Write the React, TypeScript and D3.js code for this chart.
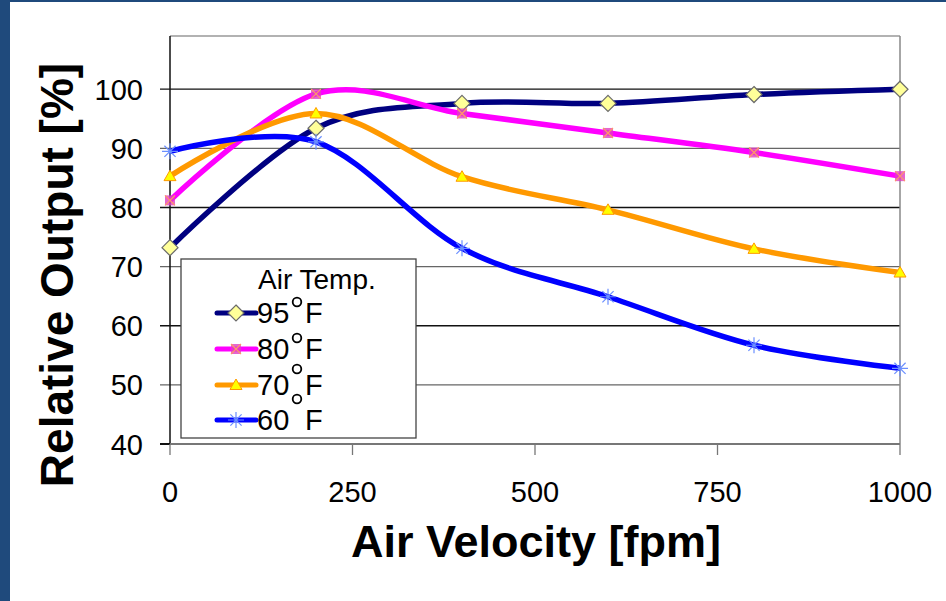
import React from 'react';
import * as d3 from 'd3';

const velocities = [0, 200, 400, 600, 800, 1000];
const temp95 = [73.2, 93.4, 97.6, 97.6, 99.1, 100.0];
const temp80 = [81.2, 99.2, 95.9, 92.6, 89.3, 85.3];
const temp70 = [85.3, 95.9, 85.2, 79.6, 73.0, 69.0];
const temp60 = [89.5, 91.1, 73.1, 64.9, 56.7, 52.8];
const xTicks = [0, 250, 500, 750, 1000];
const yTicks = [40, 50, 60, 70, 80, 90, 100];

type Marker = 'diamond' | 'x' | 'triangle' | 'star';

interface Series {
  label: string;
  values: number[];
  color: string;
  marker: Marker;
}

const series: Series[] = [
  { label: '95', values: temp95, color: '#000080', marker: 'diamond' },
  { label: '80', values: temp80, color: '#ff00ff', marker: 'x' },
  { label: '70', values: temp70, color: '#ff9900', marker: 'triangle' },
  { label: '60', values: temp60, color: '#0000ff', marker: 'star' },
];

const W = 946;
const H = 601;
const plot = { left: 170, right: 900, top: 36, bottom: 444 };
const font = 'Arial, "Liberation Sans", sans-serif';

const MarkerShape: React.FC<{ kind: Marker; x: number; y: number }> = ({ kind, x, y }) => {
  if (kind === 'diamond') {
    const s = 8;
    return (
      <path
        d={`M${x},${y - s}L${x + s},${y}L${x},${y + s}L${x - s},${y}Z`}
        fill="#ffff99"
        stroke="#6b6b6b"
        strokeWidth={1.2}
      />
    );
  }
  if (kind === 'x') {
    const s = 5;
    return (
      <g>
        <rect x={x - s} y={y - s} width={2 * s} height={2 * s} fill="#e040c0" opacity={0.8} />
        <path d={`M${x - s},${y - s}L${x + s},${y + s}M${x - s},${y + s}L${x + s},${y - s}`} stroke="#ff9966" strokeWidth={1.2} />
      </g>
    );
  }
  if (kind === 'triangle') {
    const s = 6;
    return (
      <path d={`M${x},${y - s}L${x + s},${y + s * 0.75}L${x - s},${y + s * 0.75}Z`} fill="#ffff00" stroke="#ff9900" strokeWidth={1} />
    );
  }
  const s = 8;
  return (
    <path
      d={`M${x - s},${y}L${x + s},${y}M${x - s * 0.7},${y - s * 0.7}L${x + s * 0.7},${y + s * 0.7}M${x - s * 0.7},${y + s * 0.7}L${x + s * 0.7},${y - s * 0.7}M${x},${y - s}L${x},${y + s}`}
      stroke="#6b8fff"
      strokeWidth={1.2}
    />
  );
};

export default function App() {
  const xScale = d3.scaleLinear().domain([0, 1000]).range([plot.left, plot.right]);
  const yScale = d3.scaleLinear().domain([40, 109]).range([plot.bottom, plot.top]);

  const line = d3
    .line<number>()
    .x((_, i) => xScale(velocities[i]))
    .y((d) => yScale(d))
    .curve(d3.curveCardinal.tension(0));

  const legend = { x: 181, y: 259, w: 235, h: 179 };
  const rowY = [313, 349, 385, 420];
  // degree marks as drawn in the original (the 60 row's mark slipped into the 70 row)
  const degrees = [
    { x: 297, y: 302 },
    { x: 297, y: 338 },
    { x: 297, y: 369 },
    { x: 297, y: 399 },
  ];

  return (
    <svg
      width={W}
      height={H}
      style={{ position: 'fixed', left: 0, top: 0, background: '#fff' }}
      fontFamily={font}
    >
      <rect x={0} y={0} width={W} height={H} fill="#fff" />
      <rect x={0} y={0} width={10} height={H} fill="#1f4a7c" />
      <rect x={0} y={0} width={W} height={2} fill="#1f4a7c" />

      {/* grid */}
      {yTicks.map((t, i) => (
        <line
          key={`g${t}`}
          x1={plot.left - 10}
          x2={plot.right}
          y1={yScale(t)}
          y2={yScale(t)}
          stroke={i % 2 === 0 ? '#111' : '#666'}
          strokeWidth={i === 0 ? 2 : 1.3}
        />
      ))}
      <line x1={plot.left} x2={plot.right} y1={plot.top} y2={plot.top} stroke="#999" strokeWidth={1.5} />
      <line x1={plot.right} x2={plot.right} y1={plot.top} y2={plot.bottom} stroke="#888" strokeWidth={1.5} />
      <line x1={plot.left} x2={plot.left} y1={plot.top} y2={plot.bottom} stroke="#111" strokeWidth={1.5} />
      <line x1={plot.left} x2={plot.right} y1={plot.bottom} y2={plot.bottom} stroke="#777" strokeWidth={2} />
      {xTicks.map((t) => (
        <line key={`xt${t}`} x1={xScale(t)} x2={xScale(t)} y1={plot.bottom} y2={plot.bottom + 11} stroke="#777" strokeWidth={1.3} />
      ))}

      {/* tick labels */}
      {yTicks.map((t) => (
        <text key={`yl${t}`} x={143} y={yScale(t) + 10.5} fontSize={29} textAnchor="end" fill="#000">
          {t}
        </text>
      ))}
      {xTicks.map((t) => (
        <text key={`xl${t}`} x={xScale(t)} y={502} fontSize={29} textAnchor="middle" fill="#000">
          {t}
        </text>
      ))}

      {/* axis titles */}
      <text x={536} y={557} fontSize={45} fontWeight="bold" textAnchor="middle" fill="#000">
        Air Velocity [fpm]
      </text>
      <text
        transform="translate(73,275) rotate(-90)"
        fontSize={46}
        fontWeight="bold"
        textAnchor="middle"
        fill="#000"
      >
        Relative Output [%]
      </text>

      {/* series */}
      {series.map((s) => (
        <path key={`l${s.label}`} d={line(s.values) ?? ''} fill="none" stroke={s.color} strokeWidth={5.5} />
      ))}
      {series.map((s) =>
        s.values.map((v, i) => (
          <MarkerShape key={`m${s.label}${i}`} kind={s.marker} x={xScale(velocities[i])} y={yScale(v)} />
        ))
      )}

      {/* legend */}
      <rect x={legend.x} y={legend.y} width={legend.w} height={legend.h} fill="#fff" stroke="#444" strokeWidth={1.3} />
      <text x={258} y={289} fontSize={28} fill="#000">
        Air Temp.
      </text>
      {series.map((s, i) => (
        <g key={`lg${s.label}`}>
          <line x1={217} x2={256} y1={rowY[i]} y2={rowY[i]} stroke={s.color} strokeWidth={5} strokeLinecap="round" />
          <MarkerShape kind={s.marker} x={236} y={rowY[i]} />
          <text x={257} y={rowY[i] + 10} fontSize={29} fill="#000">
            {s.label}
          </text>
          <text x={305} y={rowY[i] + 10} fontSize={29} fill="#000">
            F
          </text>
        </g>
      ))}
      {degrees.map((d, i) => (
        <circle key={`deg${i}`} cx={d.x} cy={d.y} r={4.3} fill="none" stroke="#000" strokeWidth={1.8} />
      ))}
    </svg>
  );
}
